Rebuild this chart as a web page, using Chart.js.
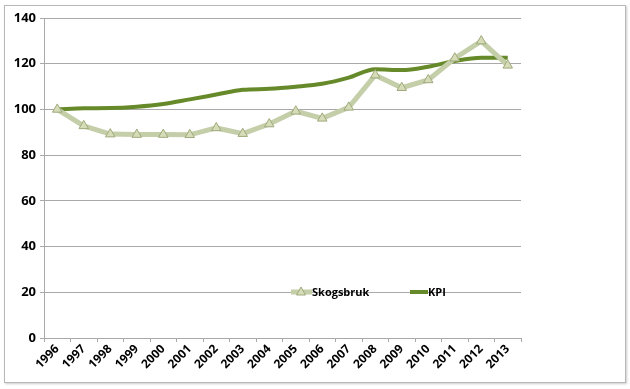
<!DOCTYPE html>
<html>
<head>
<meta charset="utf-8">
<script src="https://cdn.jsdelivr.net/npm/chart.js@4/dist/chart.umd.min.js"></script>
<style>
  body { margin: 0; background: #fff; }
  #wrap { position: relative; width: 630px; height: 389px; }
  #frame {
    position: absolute; left: 4px; top: 5px; width: 620px; height: 376px;
    border: 1px solid #b8b8b8; box-shadow: 1px 1px 2px #ccc;
  }
  #chart { position: absolute; left: 0; top: 0; }
</style>
</head>
<body>
<div id="wrap">
  <div id="frame"></div>
  <canvas id="chart" width="630" height="389"></canvas>
</div>
<script>
// Data
const years = ["1996", "1997", "1998", "1999", "2000", "2001", "2002", "2003", "2004",
               "2005", "2006", "2007", "2008", "2009", "2010", "2011", "2012", "2013"];
const skogsbruk = [100, 92.8, 89.2, 89, 89, 88.9, 91.9, 89.4, 93.6,
                   99.2, 96.1, 100.9, 115, 109.5, 112.9, 122.4, 129.9, 119.3];
const kpi = [100, 100.5, 100.6, 101.2, 102.4, 104.4, 106.5, 108.6, 109,
             109.9, 111.2, 113.9, 117.6, 117.2, 118.7, 121.2, 122.6, 122.6];
const yTicks = [0, 20, 40, 60, 80, 100, 120, 140];

const lightGreen = "#c4cea8";
const darkGreen = "#66892a";
const markerFill = "#d6dcb7";
const markerEdge = "#9ea97c";
const gridColor = "#a9a9a9";

// Legend drawn inside the plot area, like the original
const insideLegend = {
    id: "insideLegend",
    afterDraw(chart) {
        const ctx = chart.ctx;
        const y = 292;
        ctx.save();
        // Skogsbruk sample
        ctx.strokeStyle = lightGreen;
        ctx.lineWidth = 5;
        ctx.beginPath();
        ctx.moveTo(291, y);
        ctx.lineTo(312, y);
        ctx.stroke();
        ctx.fillStyle = markerFill;
        ctx.strokeStyle = markerEdge;
        ctx.lineWidth = 1;
        ctx.beginPath();
        ctx.moveTo(301, y - 5);
        ctx.lineTo(305.5, y + 3);
        ctx.lineTo(296.5, y + 3);
        ctx.closePath();
        ctx.fill();
        ctx.stroke();
        // KPI sample
        ctx.strokeStyle = darkGreen;
        ctx.lineWidth = 4;
        ctx.beginPath();
        ctx.moveTo(410, y);
        ctx.lineTo(428, y);
        ctx.stroke();
        // labels
        ctx.fillStyle = "#000";
        ctx.font = "bold 11px 'Open Sans'";
        ctx.textBaseline = "middle";
        ctx.fillText("Skogsbruk", 312, y + 1);
        ctx.fillText("KPI", 428, y + 1);
        ctx.restore();
    }
};

new Chart(document.getElementById("chart"), {
    type: "line",
    data: {
        labels: years,
        datasets: [{
            label: "Skogsbruk",
            data: skogsbruk,
            borderColor: lightGreen,
            borderWidth: 5,
            tension: 0,
            pointStyle: "triangle",
            pointRadius: 5.5,
            pointBackgroundColor: markerFill,
            pointBorderColor: markerEdge,
            pointBorderWidth: 1
        }, {
            label: "KPI",
            data: kpi,
            borderColor: darkGreen,
            borderWidth: 4,
            cubicInterpolationMode: "monotone",
            pointRadius: 0
        }]
    },
    options: {
        responsive: false,
        animation: false,
        layout: { padding: { left: 0, right: 109, top: 18, bottom: 0 } },
        plugins: {
            legend: { display: false },
            tooltip: { enabled: false }
        },
        scales: {
            x: {
                offset: true,
                afterFit: (s) => { s.height = 51; },
                grid: {
                    offset: true,
                    drawOnChartArea: false,
                    color: gridColor,
                    tickLength: 4
                },
                border: { color: gridColor },
                ticks: {
                    color: "#000",
                    font: { family: "Open Sans", weight: "bold", size: 12 },
                    minRotation: 45,
                    maxRotation: 45,
                    autoSkip: false,
                    padding: 0
                }
            },
            y: {
                min: 0,
                max: 140,
                afterFit: (s) => { s.width = 44; },
                afterBuildTicks: (s) => { s.ticks = yTicks.map(v => ({ value: v })); },
                grid: { color: gridColor, tickLength: 4 },
                border: { color: gridColor },
                ticks: {
                    color: "#000",
                    font: { family: "Open Sans", weight: "bold", size: 13 },
                    padding: 4
                }
            }
        }
    },
    plugins: [insideLegend]
});
</script>
</body>
</html>
